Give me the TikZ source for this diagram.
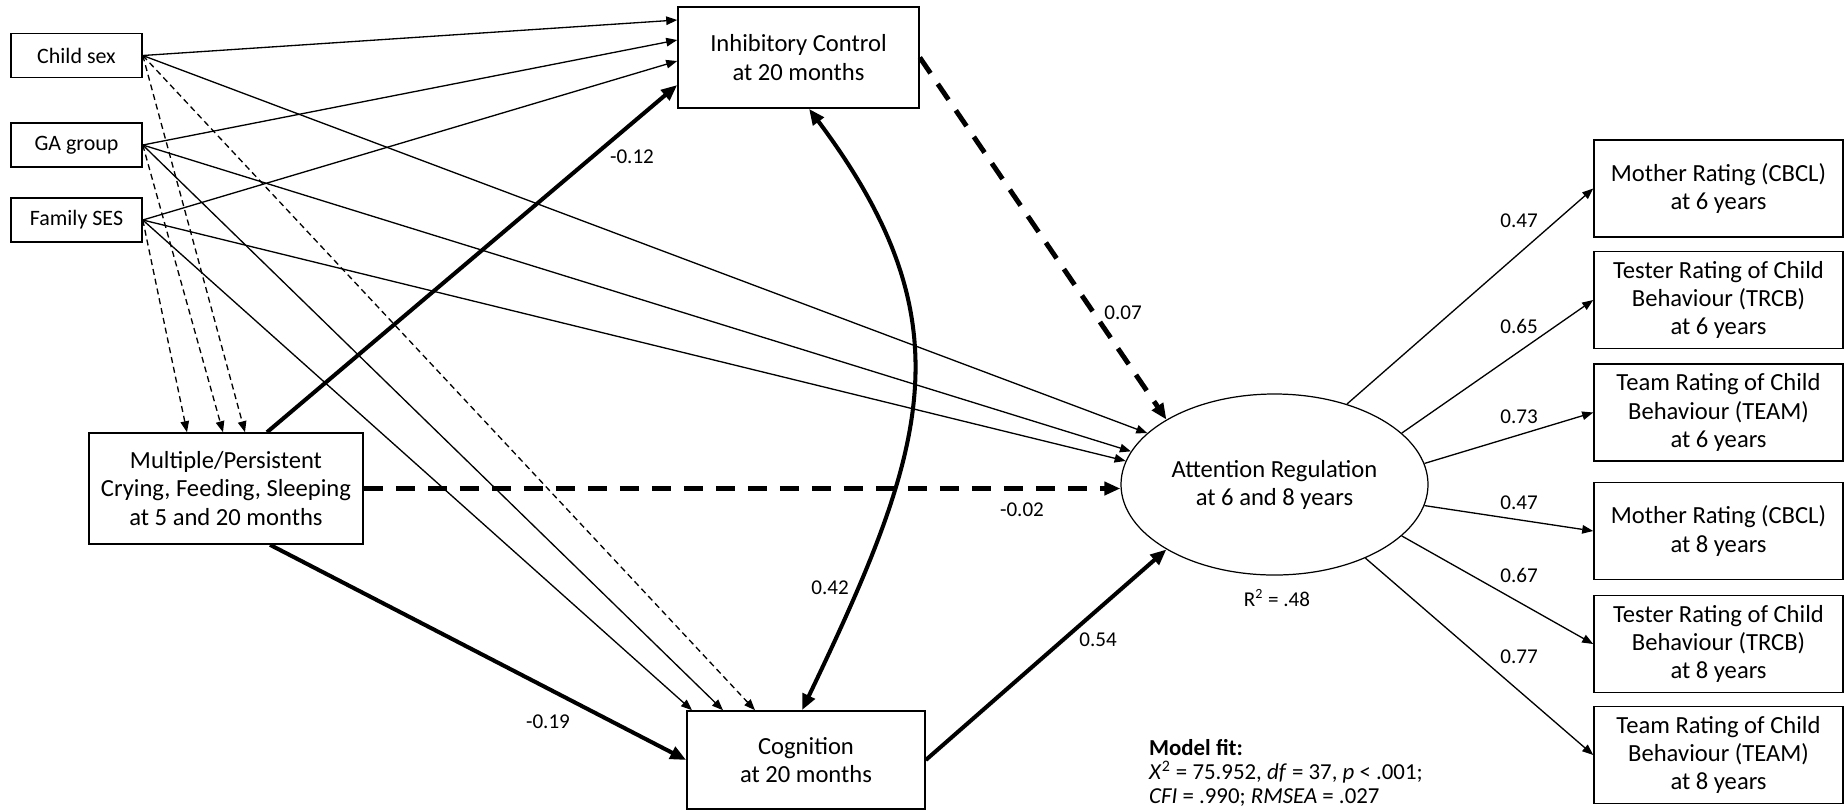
\documentclass[tikz,border=0pt]{standalone}
\usepackage{fontspec}
\setmainfont{Carlito}
\usetikzlibrary{arrows.meta,shapes.geometric}

\begin{document}
\begin{tikzpicture}[x=0.2mm, y=-0.2mm,
  box/.style={draw, line width=0.9pt, inner sep=0pt, align=center, font=\fontsize{14}{16}\selectfont},
  varbox/.style={box, minimum width=26.2mm, minimum height=8.8mm, font=\fontsize{12.5}{15}\selectfont},
  ratebox/.style={box, minimum width=49.8mm, minimum height=19.4mm},
  link/.style={line width=0.75pt, >={Triangle[length=2.2mm, width=1.7mm]}, ->},
  linkdash/.style={link, dash pattern=on 1.2mm off 0.8mm},
  main/.style={line width=2.3pt, >={Triangle[length=3.2mm, width=2.6mm]}, ->},
  maindash/.style={main, line width=2.8pt, dash pattern=on 3.8mm off 2.6mm},
  coef/.style={font=\fontsize{12}{14}\selectfont}]
  \useasboundingbox (0,0) rectangle (1845,810);

  \node[varbox] (sex) at (76.5,55.5) {Child sex};
  \node[varbox] (ga) at (76.5,145) {GA group};
  \node[varbox] (ses) at (76.5,220) {Family SES};
  \node[box, minimum width=54.8mm, minimum height=22.2mm] (cry) at (226,488.5) {Multiple/Persistent\\Crying, Feeding, Sleeping\\at 5 and 20 months};
  \node[box, minimum width=48.2mm, minimum height=20.2mm] (ic) at (798.5,57.5) {Inhibitory Control\\at 20 months};
  \node[box, minimum width=47.6mm, minimum height=19.6mm] (cog) at (806,760) {Cognition\\at 20 months};
  \node[ellipse, draw, line width=0.7pt, inner sep=0pt, minimum width=61.4mm, minimum height=36.2mm, align=center, font=\fontsize{14}{16}\selectfont] (att) at (1274.5,484.5) {Attention Regulation\\at 6 and 8 years};

  \draw[link] (sex.east) -- ([yshift=7.5mm]ic.west);
  \draw[link] (ga.east) -- ([yshift=3.5mm]ic.west);
  \draw[link] (ses.east) -- ([yshift=-0.7mm]ic.west);
  \draw[link] (sex.east) -- (att.158);
  \draw[link] (ga.east) -- (att.167);
  \draw[link] (ses.east) -- (att.171);
  \draw[linkdash] (ses.east) -- ([xshift=-7.8mm]cry.north);
  \draw[linkdash] (ga.east) -- ([xshift=-0.6mm]cry.north);
  \draw[linkdash] (sex.east) -- ([xshift=3.8mm]cry.north);
  \draw[link] (ses.east) -- ([xshift=-22.8mm]cog.north);
  \draw[link] (ga.east) -- ([xshift=-16.6mm]cog.north);
  \draw[linkdash] (sex.east) -- ([xshift=-10.2mm]cog.north);

  \draw[main] ([xshift=8.2mm]cry.north) -- ([yshift=-5.5mm]ic.west);
  \draw[main] ([xshift=8.8mm]cry.south) -- (cog.west);
  \draw[maindash] (cry.east) -- (cry.east -| att.west);
  \draw[maindash] (ic.east) -- (att.149);
  \draw[main] (cog.east) -- (att.211);
  \draw[main, <->] ([xshift=2.1mm]ic.south) .. controls +(160,214) and +(126,-263) .. ([xshift=-0.8mm]cog.north);

  \node[coef] (c1) at (632,157) {-0.12};
  \node[coef] (c2) at (1123,313) {0.07};
  \node[coef] (c3) at (1022,510) {-0.02};
  \node[coef] (c4) at (830,588) {0.42};
  \node[coef] (c5) at (1098,640) {0.54};
  \node[coef] (c6) at (548,722) {-0.19};
  \node[coef] (r2) at (1277,598) {R\textsuperscript{2} = .48};

  \foreach \nm/\yy/\ang/\ly/\val/\txt in {
    m6/188.5/48/221/0.47/{Mother Rating (CBCL)\\at 6 years},
    t6/300/22/326/0.65/{Tester Rating of Child\\Behaviour (TRCB)\\at 6 years},
    e6/412.5/8/417/0.73/{Team Rating of Child\\Behaviour (TEAM)\\at 6 years},
    m8/531/352/503/0.47/{Mother Rating (CBCL)\\at 8 years},
    t8/644/338/575/0.67/{Tester Rating of Child\\Behaviour (TRCB)\\at 8 years},
    e8/755/321/657/0.77/{Team Rating of Child\\Behaviour (TEAM)\\at 8 years}}{
    \node[ratebox] (\nm) at (1718.5,\yy) {\txt};
    \draw[link] (att.\ang) -- (\nm.west);
    \node[coef] (\nm-c) at (1519,\ly) {\val};
  }

  \node[anchor=west, align=left, font=\fontsize{13}{13.5}\selectfont] (fit) at (1143,773) {\textbf{Model fit:}\\\textit{X}\textsuperscript{2} = 75.952, \textit{df} = 37, \textit{p} < .001;\\\textit{CFI} = .990; \textit{RMSEA} = .027};
\end{tikzpicture}
\end{document}
